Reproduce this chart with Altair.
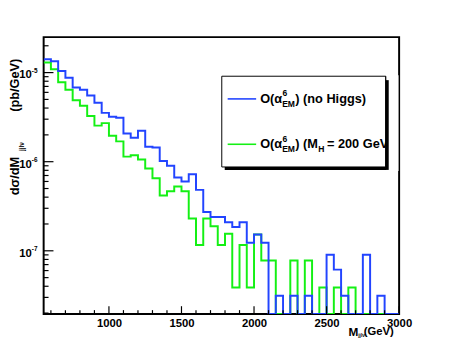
import altair as alt
import pandas as pd

# ---------------- data ----------------
BIN_W = 50
bin_lo = list(range(550, 3000, BIN_W))  # 49 bins, 550..2950

blue = [1.41e-5, 1.34e-5, 1.04e-5, 8.77e-6, 6.81e-6, 6.43e-6, 5.52e-6, 4.59e-6,
        3.53e-6, 3.19e-6, 3.11e-6, 2.07e-6, 1.86e-6, 2.23e-6, 1.47e-6, 1.44e-6,
        1.02e-6, 9.0e-7, 6.64e-7, 6.0e-7, 7.22e-7, 4.83e-7, 2.73e-7, 2.39e-7,
        2.39e-7, 2.09e-7, 1.85e-7, 2.09e-7, 1.23e-7, 1.52e-7, 1.23e-7, 0,
        3.13e-8, 0, 3.13e-8, 0, 3.13e-8, 0, 0, 9.04e-8,
        6.15e-8, 3.13e-8, 0, 0, 9.04e-8, 0, 3.13e-8, 0, 0]

green = [1.30e-5, 1.09e-5, 7.80e-6, 6.43e-6, 4.90e-6, 4.25e-6, 3.25e-6, 2.54e-6,
         2.71e-6, 1.95e-6, 1.69e-6, 1.14e-6, 1.18e-6, 1.06e-6, 8.41e-7, 6.53e-7,
         4.18e-7, 4.66e-7, 5.28e-7, 4.66e-7, 2.31e-7, 1.16e-7, 2.31e-7, 1.89e-7,
         1.16e-7, 1.55e-7, 3.87e-8, 1.16e-7, 3.87e-8, 1.52e-7, 7.80e-8, 7.80e-8,
         0, 0, 7.80e-8, 0, 7.80e-8, 0, 3.87e-8, 0,
         3.87e-8, 0, 3.87e-8, 0, 0, 0, 0, 0, 0]

series_names = ["green", "blue"]
series_colors = ["#14f014", "#2244ff"]

XMIN, XMAX = 550, 3000
YMIN, YMAX = 1.95e-8, 2.5e-5

x_major = [1000, 1500, 2000, 2500, 3000]
x_minor = [600, 700, 800, 900, 1100, 1200, 1300, 1400, 1600, 1700, 1800, 1900,
           2100, 2200, 2300, 2400, 2600, 2700, 2800, 2900]
y_major = [1e-7, 1e-6, 1e-5]
y_major_exp = ["-7", "-6", "-5"]
y_minor = [2e-8, 3e-8, 4e-8, 5e-8, 6e-8, 7e-8, 8e-8, 9e-8,
           2e-7, 3e-7, 4e-7, 5e-7, 6e-7, 7e-7, 8e-7, 9e-7,
           2e-6, 3e-6, 4e-6, 5e-6, 6e-6, 7e-6, 8e-6, 9e-6, 2e-5]

# ---------------- build tables ----------------
rows = []
for name, vals in zip(["green", "blue"], [green, blue]):
    for i, (lo, v) in enumerate(zip(bin_lo, vals)):
        rows.append({"series": name, "x": lo, "v": v, "o": 2 * i})
        rows.append({"series": name, "x": lo + BIN_W, "v": v, "o": 2 * i + 1})
hist = pd.DataFrame(rows)

W, H = 362, 282
FONT = "Liberation Sans, Arial, Helvetica, sans-serif"

xscale = alt.Scale(domain=[XMIN, XMAX], nice=False, zero=False)
yscale = alt.Scale(type="log", domain=[YMIN, YMAX], nice=False)
xaxis = alt.Axis(values=x_major, format="d", ticks=False, domain=False, grid=False, title=None,
                 labelFont=FONT, labelFontWeight="bold", labelFontSize=11.5,
                 labelColor="black", labelPadding=4, labelFlush=False)


def X(field):
    return alt.X(field, type="quantitative", scale=xscale, axis=xaxis)


def Y(field):
    return alt.Y(field, type="quantitative", scale=yscale, axis=None)


lines = alt.Chart(hist).transform_calculate(
    yv="datum.v > 1.95e-8 ? datum.v : 1.95e-8"
).mark_line(strokeWidth=2, interpolate="linear", clip=True).encode(
    x=X("x"),
    y=Y("yv"),
    color=alt.Color("series:N", scale=alt.Scale(domain=series_names, range=series_colors), legend=None),
    detail="series:N",
    order="o:Q",
)

xmaj = alt.Chart(pd.DataFrame({"x": x_major})).mark_rule(color="black", strokeWidth=1.2).encode(
    x=X("x"), y=alt.value(H), y2=alt.value(H - 8))
xmin_ = alt.Chart(pd.DataFrame({"x": x_minor})).mark_rule(color="black", strokeWidth=1.2).encode(
    x=X("x"), y=alt.value(H), y2=alt.value(H - 4))
ymaj = alt.Chart(pd.DataFrame({"yv": y_major})).mark_rule(color="black", strokeWidth=1.2).encode(
    y=Y("yv"), x=alt.value(0), x2=alt.value(10))
ymin_ = alt.Chart(pd.DataFrame({"yv": y_minor})).mark_rule(color="black", strokeWidth=1.2).encode(
    y=Y("yv"), x=alt.value(0), x2=alt.value(5))

ylab_df = pd.DataFrame({"yv": y_major, "base": ["10"] * 3, "exp": y_major_exp})
ylab_base = alt.Chart(ylab_df).mark_text(align="right", baseline="middle", dy=3,
                                         font=FONT, fontWeight="bold", fontSize=11.5,
                                         color="black").encode(
    y=Y("yv"), x=alt.value(-12), text="base:N")
ylab_exp = alt.Chart(ylab_df).mark_text(align="left", baseline="middle", dy=-2,
                                        font=FONT, fontWeight="bold", fontSize=6.5,
                                        color="black").encode(
    y=Y("yv"), x=alt.value(-12), text="exp:N")

ONE = alt.Data(values=[{"a": 1}])


def txt(s, x, y, size=13, angle=0, align="left", color="black"):
    return alt.Chart(ONE).mark_text(align=align, baseline="middle", angle=angle, font=FONT,
                                    fontWeight="bold", fontSize=size, color=color).encode(
        x=alt.value(x), y=alt.value(y), text=alt.value(s))


def rect(x1, x2, y1, y2, fill, stroke=None, sw=0):
    kw = dict(fill=fill)
    if stroke:
        kw.update(stroke=stroke, strokeWidth=sw)
    return alt.Chart(ONE).mark_rect(**kw).encode(
        x=alt.value(x1), x2=alt.value(x2), y=alt.value(y1), y2=alt.value(y2))


def seg(x1, x2, y, color, sw=2):
    return alt.Chart(ONE).mark_rule(color=color, strokeWidth=sw).encode(
        x=alt.value(x1), x2=alt.value(x2), y=alt.value(y))


def vseg(x, y1, y2, color, sw=1):
    return alt.Chart(ONE).mark_rule(color=color, strokeWidth=sw).encode(
        x=alt.value(x), y=alt.value(y1), y2=alt.value(y2))


# axis titles
ytitle = [
    txt("d\u03c3/dM", -29, 161, size=13, angle=270, align="left"),
    txt("jjl\u03bd", -22, 116, size=6.5, angle=270, align="left"),
    txt("(pb/GeV)", -29, 76, size=13, angle=270, align="left"),
]
xtitle = [
    txt("M", 310.5, 300.5, size=12),
    txt("jjl\u03bd", 320.3, 303.8, size=5),
    txt("(GeV)", 326.0, 300.5, size=11.5),
]

# legend box
LX1, LX2, LY1, LY2 = 181.4, 348.4, 39.8, 132.2
R1, R2 = 62.9, 109.1
FS = 13
SUB = 8.7
legend = [
    rect(LX1 + 3, LX2 + 3, LY1 + 4, LY2 + 3, "black"),
    rect(LX1, LX2, LY1, LY2, "white", "black", 1),
    seg(187.4, 216.4, R1, series_colors[1], 1.6),
    seg(187.4, 216.4, R2, series_colors[0], 1.6),
    txt("O(\u03b1", 220.5, R1, size=FS),
    txt("6", 243.3, R1 - 5.5, size=SUB),
    txt("EM", 242.9, R1 + 5, size=SUB),
    txt(") (no Higgs)", 256.2, R1, size=FS),
    txt("O(\u03b1", 220.5, R2, size=FS),
    txt("6", 243.3, R2 - 5.5, size=SUB),
    txt("EM", 242.9, R2 + 5, size=SUB),
    txt(") (M", 256.2, R2, size=FS),
    txt("H", 279.6, R2 + 5, size=SUB),
    txt("= 200 GeV)", 288.5, R2, size=FS),
    # hide overflow to the right of the box, then redraw shadow / border
    rect(LX2 + 0.5, LX2 + 13, LY1 - 1, LY2 + 4, "white"),
    rect(LX2, LX2 + 3, LY1 + 4, LY2 + 3, "black"),
    vseg(LX2, LY1, LY2, "black", 1),
]

chart = alt.layer(
    lines, xmaj, xmin_, ymaj, ymin_, ylab_base, ylab_exp, *ytitle, *xtitle, *legend
).properties(
    width=W, height=H,
    autosize=alt.AutoSizeParams(type="none"),
    padding={"left": 36.3, "top": 26.5, "right": 45.7, "bottom": 37.5},
    background="white",
).configure_view(stroke="black", strokeWidth=2)

chart.save("out.html", embed_options={"renderer": "svg", "actions": False})
